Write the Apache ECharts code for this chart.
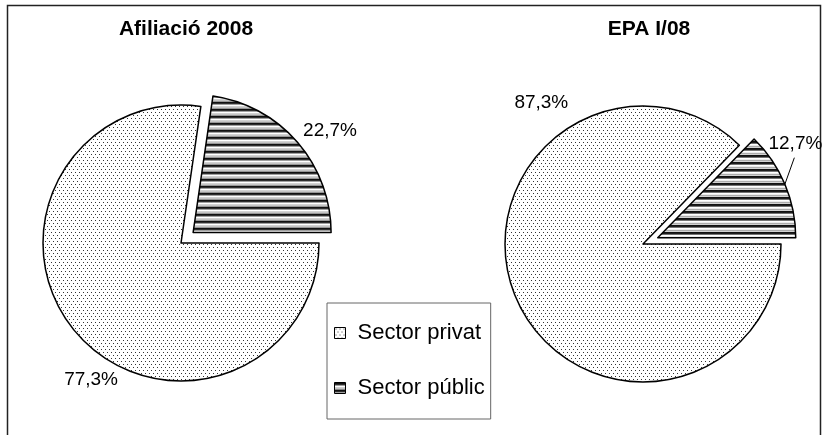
<!DOCTYPE html>
<html>
<head>
<meta charset="utf-8">
<script src="https://cdn.jsdelivr.net/npm/echarts@6/dist/echarts.min.js"></script>
<style>
html,body{margin:0;padding:0;background:#fff;}
#main{width:828px;height:435px;}
</style>
</head>
<body>
<div id="main"></div>
<script>
// dades
var titles = ['Afiliació 2008', 'EPA I/08'];
var sectors = ['Sector públic', 'Sector privat'];
var afiliacio = [22.7, 77.3];
var epa = [12.7, 87.3];

// patrons (punts i ratlles)
function dotPattern(){
	var c = document.createElement('canvas');
	c.width = 4; c.height = 6;
	var ctx = c.getContext('2d');
	ctx.fillStyle = '#fff';
	ctx.fillRect(0, 0, 4, 6);
	ctx.fillStyle = '#333';
	ctx.fillRect(1, 1, 1, 1);
	ctx.fillRect(3, 4, 1, 1);
	return c;
}
function stripePattern(){
	var c = document.createElement('canvas');
	c.width = 4; c.height = 7;
	var ctx = c.getContext('2d');
	ctx.fillStyle = '#fff';
	ctx.fillRect(0, 0, 4, 7);
	ctx.fillStyle = '#111';
	ctx.fillRect(0, 0, 4, 2);
	ctx.fillStyle = '#555';
	ctx.fillRect(0, 2, 4, 1);
	ctx.fillStyle = '#999';
	ctx.fillRect(0, 5, 4, 1);
	return c;
}
var dots = {image: dotPattern(), repeat: 'repeat'};
var stripes = {image: stripePattern(), repeat: 'repeat'};

function fmt(v){
	return v.toFixed(1).replace('.', ',') + '%';
}

// desplaçaments de les etiquetes [serie][dada]
var nudges = [[[-13, 0], [60, 35]], [[-38, -33], [74, -202]]];

function makeData(values, showLine){
	return values.map(function(v, i){
		return {
			name: sectors[i],
			value: v,
			selected: i === 0,
			itemStyle: {color: i === 0 ? stripes : dots},
			labelLine: {show: showLine && i === 0}
		};
	});
}

function pieSeries(idx, values, center, showLine){
	return {
		type: 'pie',
		radius: 138,
		center: center,
		startAngle: values[0] * 3.6,
		clockwise: true,
		selectedMode: 'multiple',
		selectedOffset: 16,
		silent: true,
		animation: false,
		itemStyle: {borderColor: '#000', borderWidth: 1.5},
		label: {
			position: 'outside',
			overflow: 'none',
			formatter: function(p){ return fmt(p.value); },
			fontFamily: 'Liberation Sans, Arial',
			fontSize: 19,
			color: '#000'
		},
		labelLine: {length: 18, length2: 0, lineStyle: {color: '#000', width: 1}},
		labelLayout: function(p){
			var n = nudges[idx][p.dataIndex];
			var out = {dx: n[0], dy: n[1]};
			if (p.labelLinePoints) {
				var a = p.labelLinePoints[0];
				var r = p.labelRect;
				var end = [r.x + n[0] + r.width * 0.48, r.y + n[1] + r.height + 4];
				out.labelLinePoints = [a, a, end];
			}
			return out;
		},
		select: {itemStyle: {borderColor: '#000', borderWidth: 1.5}},
		data: makeData(values, showLine)
	};
}

var myChart = echarts.init(document.getElementById('main'));

var option = {
	backgroundColor: '#fff',
	animation: false,
	title: [
		{text: titles[0], left: 181, top: 14, textAlign: 'center',
			textStyle: {fontFamily: 'Liberation Sans, Arial', fontSize: 21, fontWeight: 'bold', color: '#000'}},
		{text: titles[1], left: 644, top: 14, textAlign: 'center',
			textStyle: {fontFamily: 'Liberation Sans, Arial', fontSize: 21, fontWeight: 'bold', color: '#000'}}
	],
	legend: {
		orient: 'vertical',
		left: 327,
		top: 303,
		data: [sectors[1], sectors[0]],
		icon: 'rect',
		itemWidth: 11,
		itemHeight: 11,
		itemGap: 33,
		padding: [19, 6, 20, 7],
		borderColor: '#666',
		borderWidth: 1,
		selectedMode: false,
		itemStyle: {borderColor: '#000', borderWidth: 1},
		textStyle: {fontFamily: 'Liberation Sans, Arial', fontSize: 22, color: '#000', padding: [0, 0, 0, 7]}
	},
	graphic: [{
		type: 'rect',
		shape: {x: 7.5, y: 5.5, width: 813, height: 440},
		style: {fill: null, stroke: '#222', lineWidth: 1.5},
		silent: true
	}],
	series: [
		pieSeries(0, afiliacio, [181, 243], false),
		pieSeries(1, epa, [643, 244], true)
	]
};

myChart.setOption(option);
</script>
</body>
</html>
